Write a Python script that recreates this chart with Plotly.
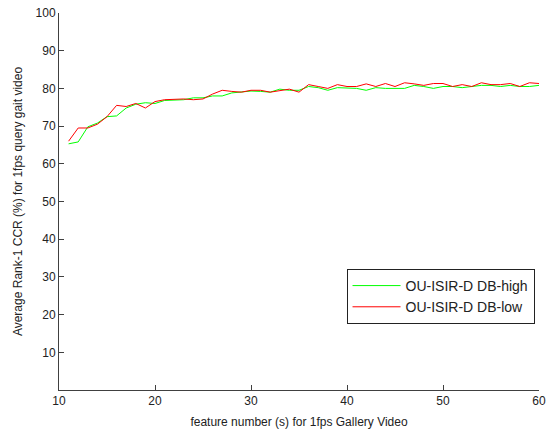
import plotly.graph_objects as go

x_vals = list(range(11, 61))
db_high = [65.3, 65.8, 69.8, 70.8, 72.5, 72.7, 74.8, 75.8, 76.2, 76.0,
           76.8, 76.9, 77.0, 77.5, 77.5, 78.0, 78.0, 78.8, 79.0, 79.3,
           79.2, 79.0, 79.8, 79.5, 79.5, 80.5, 80.2, 79.5, 80.2, 80.2,
           80.0, 79.5, 80.2, 80.0, 80.0, 80.0, 80.8, 80.5, 80.0, 80.5,
           80.5, 80.2, 80.5, 80.8, 80.8, 80.5, 80.8, 80.5, 80.5, 80.8]
db_low = [66.0, 69.5, 69.5, 70.5, 72.5, 75.5, 75.2, 76.0, 74.8, 76.5,
          77.0, 77.2, 77.2, 77.0, 77.2, 78.5, 79.5, 79.2, 79.0, 79.5,
          79.5, 79.0, 79.5, 79.8, 79.0, 81.0, 80.5, 80.0, 81.0, 80.5,
          80.5, 81.2, 80.5, 81.3, 80.5, 81.5, 81.2, 80.8, 81.3, 81.3,
          80.5, 81.0, 80.5, 81.5, 81.0, 81.0, 81.3, 80.5, 81.5, 81.3]
x_ticks = [10, 20, 30, 40, 50, 60]
y_ticks = [10, 20, 30, 40, 50, 60, 70, 80, 90, 100]

fig = go.Figure()
fig.add_trace(go.Scatter(x=x_vals, y=db_high, mode="lines", name="OU-ISIR-D DB-high",
                         line=dict(color="#00ff00", width=1)))
fig.add_trace(go.Scatter(x=x_vals, y=db_low, mode="lines", name="OU-ISIR-D DB-low",
                         line=dict(color="#ff0000", width=1)))

axis_common = dict(showgrid=False, zeroline=False, showline=True, linecolor="#404040",
                   linewidth=1, ticks="inside", ticklen=5, tickcolor="#404040",
                   tickfont=dict(family="Liberation Sans, Arial", size=12, color="#222"),
                   mirror=False, automargin=False, ticklabeloverflow="allow")
fig.update_layout(
    width=547, height=429,
    margin=dict(l=59, r=8, t=13, b=39),
    paper_bgcolor="white", plot_bgcolor="white",
    font=dict(family="Liberation Sans, Arial", size=12, color="#222"),
    xaxis=dict(range=[10, 60], tickvals=x_ticks,
               title=dict(text="feature number (s) for 1fps Gallery Video", standoff=11,
                          font=dict(size=12)), **axis_common),
    yaxis=dict(range=[0, 100], tickvals=y_ticks,
               title=dict(text="Average Rank-1 CCR (%) for 1fps query gait video", standoff=10,
                          font=dict(size=12)), **axis_common),
    legend=dict(x=0.599, y=0.321, xanchor="left", yanchor="top",
                bgcolor="white", bordercolor="#222", borderwidth=1,
                font=dict(size=14), tracegroupgap=0, itemwidth=48),
    showlegend=True,
)
fig.write_html("out.html", config={"displayModeBar": False},
               post_script="document.body.style.margin='0';document.body.style.overflow='hidden';")
